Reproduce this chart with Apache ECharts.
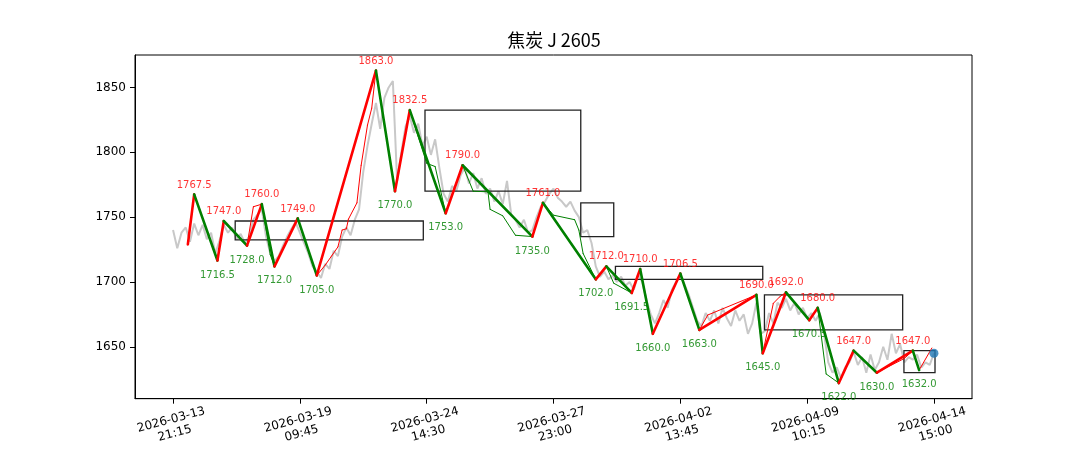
<!DOCTYPE html>
<html><head><meta charset="utf-8">
<script src="https://cdn.jsdelivr.net/npm/echarts@6/dist/echarts.min.js"></script>
<style>html,body{margin:0;padding:0;background:#fff}#c{width:1080px;height:450px}</style>
</head><body><div id="c"></div>
<script>
// ---------------- data ----------------
const titleText = '焦炭 J 2605';
const tickIndex = [0, 60, 120, 180, 240, 300, 360];
const tickLabels = ['2026-03-13\n21:15', '2026-03-19\n09:45', '2026-03-24\n14:30', '2026-03-27\n23:00', '2026-04-02\n13:45', '2026-04-09\n10:15', '2026-04-14\n15:00'];
const yTicks = [1650, 1700, 1750, 1800, 1850];

// close price, one value every 2 bars (bar 0 .. 360)
const priceStep = 2;
const price = [
  1740, 1726, 1738, 1742, 1731, 1745, 1736, 1744, 1733, 1738,
  1722, 1732, 1744, 1738, 1742, 1733, 1737, 1730, 1735, 1748,
  1752, 1756, 1735, 1722, 1716, 1720, 1728, 1735, 1741, 1746,
  1738, 1730, 1722, 1712, 1708, 1703, 1714, 1710, 1724, 1720,
  1735, 1742, 1736, 1748, 1756, 1785, 1805, 1822, 1838, 1818,
  1842, 1850, 1855, 1778, 1800, 1820, 1828, 1815, 1822, 1805,
  1812, 1798, 1810, 1788, 1768, 1762, 1774, 1770, 1782, 1788,
  1776, 1784, 1772, 1780, 1768, 1772, 1762, 1770, 1760, 1778,
  1752, 1748, 1742, 1748, 1738, 1740, 1750, 1758, 1762, 1768,
  1772, 1765, 1762, 1758, 1762, 1755, 1750, 1738, 1740, 1730,
  1712, 1704, 1708, 1702, 1705, 1700, 1704, 1697, 1700, 1694,
  1706, 1700, 1686, 1675, 1668, 1676, 1686, 1680, 1694, 1700,
  1705, 1698, 1690, 1680, 1670, 1666, 1676, 1670, 1678, 1668,
  1680, 1672, 1666, 1678, 1670, 1675, 1660, 1668, 1684, 1660,
  1662, 1676, 1668, 1684, 1680, 1687, 1678, 1684, 1675, 1680,
  1672, 1676, 1670, 1676, 1660, 1638, 1630, 1634, 1626, 1634,
  1638, 1646, 1636, 1642, 1630, 1644, 1632, 1638, 1650, 1640,
  1660, 1645, 1652, 1638, 1642, 1640, 1644, 1634, 1638, 1636,
  1645
];

// main zigzag pivots (bar index, price)
const pivotIdx = [7, 10, 21, 24, 35, 42, 48, 59, 68, 96, 105, 112, 129, 137, 170, 175, 200, 205, 217, 221, 227, 240, 249, 276, 279, 290, 301, 305, 315, 322, 333, 350, 353];
const pivotVal = [1729, 1767.5, 1716.5, 1747, 1728, 1760, 1712, 1749, 1705, 1863, 1770, 1832.5, 1753, 1790, 1735, 1761, 1702, 1712, 1691.5, 1710, 1660, 1706.5, 1663, 1690, 1645, 1692, 1670.5, 1680, 1622, 1647, 1630, 1647, 1632];

// fine zigzag vertices (bar index, price)
const subIdx = [7, 10, 21, 24, 35, 38, 42, 46, 48, 59, 66, 68, 72, 75, 78, 80, 82, 83, 87, 89, 92, 94, 96, 105, 112, 120, 124, 129, 137, 142, 149, 150, 156, 162, 170, 175, 180, 190, 192, 194, 200, 205, 208.5, 217, 221, 227, 240, 249, 253, 276, 279, 284, 287, 290, 301, 305, 309, 315, 322, 333, 346, 350, 353, 359];
const subVal = [1729, 1767.5, 1716.5, 1747, 1728, 1758, 1760, 1721, 1712, 1749, 1714, 1705, 1713, 1720, 1727, 1740, 1741, 1748.5, 1761, 1790, 1821, 1834, 1863, 1770, 1832.5, 1791.5, 1789, 1753, 1790, 1770, 1769.5, 1756, 1751, 1736, 1735, 1761, 1751.5, 1748, 1740, 1722, 1702, 1712, 1699, 1691.5, 1710, 1660, 1706.5, 1663, 1674.5, 1690, 1645, 1683.5, 1688.5, 1692, 1670.5, 1680, 1629, 1622, 1647, 1630, 1641, 1647, 1632, 1649];

// boxes
const boxStart = [29.4, 119.2, 192.9, 209.3, 279.8, 345.8];
const boxEnd = [118.4, 192.9, 208.5, 279, 345.2, 360.5];
const boxLow = [1732.5, 1770, 1735, 1702, 1663, 1630];
const boxHigh = [1747, 1832.5, 1761, 1712, 1690, 1647];

const lastIdx = 360;
const lastPrice = 1645;

// ---------------- build ----------------
const UP = '#ff0000', DOWN = '#008000';
const priceData = price.map((v, i) => [i * priceStep, v]);

const thickSegs = [];
for (let i = 0; i < pivotIdx.length - 1; i++) {
  const up = pivotVal[i + 1] > pivotVal[i];
  thickSegs.push({ coords: [[pivotIdx[i], pivotVal[i]], [pivotIdx[i + 1], pivotVal[i + 1]]], lineStyle: { color: up ? UP : DOWN } });
}
function legUp(mid) {
  for (let i = 0; i < pivotIdx.length - 1; i++) {
    if (mid >= pivotIdx[i] && mid <= pivotIdx[i + 1]) return pivotVal[i + 1] > pivotVal[i];
  }
  return true;
}
const thinSegs = [];
for (let i = 0; i < subIdx.length - 1; i++) {
  const up = legUp((subIdx[i] + subIdx[i + 1]) / 2);
  thinSegs.push({ coords: [[subIdx[i], subVal[i]], [subIdx[i + 1], subVal[i + 1]]], lineStyle: { color: up ? UP : DOWN } });
}
const peaks = [], troughs = [];
for (let i = 1; i < pivotIdx.length; i++) {
  const isPeak = pivotVal[i] > pivotVal[i - 1];
  (isPeak ? peaks : troughs).push([pivotIdx[i], pivotVal[i]]);
}
const boxData = boxStart.map((s, i) => [s, boxEnd[i], boxLow[i], boxHigh[i]]);

const yMinData = Math.min(...pivotVal, ...price), yMaxData = Math.max(...pivotVal, ...price);
const yPad = (yMaxData - yMinData) * 0.05;
const xPad = lastIdx * 0.05;

const FONT = 'DejaVu Sans';
const chart = echarts.init(document.getElementById('c'), null, { renderer: 'canvas' });
chart.setOption({
  animation: false,
  backgroundColor: '#fff',
  graphic: [{
    type: 'text', x: 554, y: 40,
    style: { text: titleText, font: 'normal 18px "Noto Sans CJK SC", "DejaVu Sans"', fill: '#000', align: 'center', verticalAlign: 'middle', textAlign: 'center', textVerticalAlign: 'middle' }
  }],
  grid: { left: 135, right: 108, top: 55, bottom: 50, show: true, borderColor: '#000', borderWidth: 1, backgroundColor: 'transparent' },
  xAxis: {
    type: 'value', min: -xPad, max: lastIdx + xPad,
    splitLine: { show: false },
    axisLine: { show: true, onZero: false, lineStyle: { color: '#000', width: 1 } },
    axisTick: { show: true, customValues: tickIndex, length: 5, lineStyle: { color: '#000' } },
    axisLabel: {
      customValues: tickIndex,
      formatter: v => tickLabels[tickIndex.indexOf(v)] || '',
      rotate: 15, align: 'center', verticalAlign: 'middle', margin: 28,
      fontFamily: FONT, fontSize: 12, lineHeight: 14, color: '#000'
    }
  },
  yAxis: {
    type: 'value', min: yMinData - yPad, max: yMaxData + yPad,
    splitLine: { show: false },
    axisLine: { show: true, onZero: false, lineStyle: { color: '#000', width: 1 } },
    axisTick: { show: true, customValues: yTicks, length: 5, lineStyle: { color: '#000' } },
    axisLabel: { customValues: yTicks, formatter: v => String(v), fontFamily: FONT, fontSize: 12, color: '#000', margin: 9 }
  },
  series: [
    { type: 'line', data: priceData, symbol: 'none', lineStyle: { color: '#c8c8c8', width: 2 }, z: 1, silent: true },
    { type: 'custom', data: boxData, encode: { x: [0, 1], y: [2, 3] }, z: 3, silent: true,
      renderItem: (params, api) => {
        const p0 = api.coord([api.value(0), api.value(3)]);
        const p1 = api.coord([api.value(1), api.value(2)]);
        return { type: 'rect', shape: { x: p0[0], y: p0[1], width: p1[0] - p0[0], height: p1[1] - p0[1] },
          style: { fill: 'none', stroke: '#222', lineWidth: 1.3 } };
      } },
    { type: 'lines', coordinateSystem: 'cartesian2d', data: thinSegs, lineStyle: { width: 1, opacity: 1, cap: 'round' }, z: 4, silent: true },
    { type: 'lines', coordinateSystem: 'cartesian2d', data: thickSegs, lineStyle: { width: 2.6, opacity: 1, cap: 'round', join: 'round' }, z: 5, silent: true },
    { type: 'scatter', data: peaks, symbolSize: 1, itemStyle: { color: 'transparent' }, z: 6, silent: true,
      label: { show: true, position: 'top', distance: 4, formatter: p => p.value[1].toFixed(1), color: UP, fontFamily: FONT, fontSize: 10 } },
    { type: 'scatter', data: troughs, symbolSize: 1, itemStyle: { color: 'transparent' }, z: 6, silent: true,
      label: { show: true, position: 'bottom', distance: 9, formatter: p => p.value[1].toFixed(1), color: DOWN, fontFamily: FONT, fontSize: 10 } },
    { type: 'scatter', data: [[lastIdx, lastPrice]], symbolSize: 9, itemStyle: { color: '#1f77b4' }, z: 7, silent: true }
  ]
});
</script>
</body></html>
